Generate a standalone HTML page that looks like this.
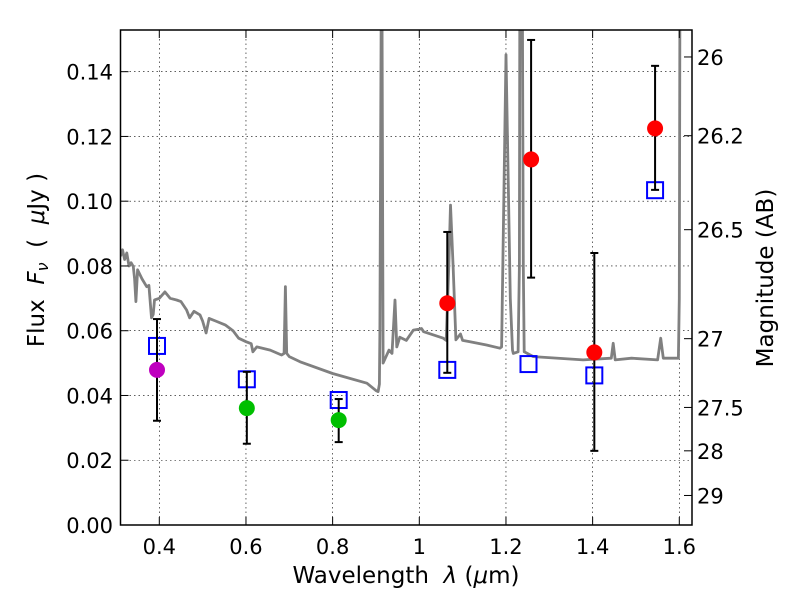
<!DOCTYPE html>
<html><head><meta charset="utf-8"><style>
html,body{margin:0;padding:0;background:#fff;}
svg{display:block;font-family:"DejaVu Sans","Liberation Sans",sans-serif;}
</style></head><body>
<svg id="chart" width="800" height="600" viewBox="0 0 800 600" xmlns="http://www.w3.org/2000/svg">
<defs><clipPath id="clip"><rect x="120.5" y="30" width="571.5" height="495"/></clipPath></defs>
<g id="grid"></g>
<g id="spec" clip-path="url(#clip)"></g>
<g id="marks"></g>
<rect x="120.5" y="30" width="571.5" height="495" fill="none" stroke="#000" stroke-width="1.5"/>
<g id="axes"></g>
<text x="406" y="583" font-size="23" text-anchor="middle" xml:space="preserve">Wavelength  <tspan font-style="italic">λ</tspan> (<tspan font-style="italic">μ</tspan>m)</text>
<text transform="translate(44,260) rotate(-90)" font-size="23" text-anchor="middle" xml:space="preserve">Flux  <tspan font-style="italic">F<tspan font-size="16" dy="4">ν</tspan></tspan><tspan dy="-4">  (  </tspan><tspan font-style="italic">μ</tspan>Jy )</text>
<text transform="translate(773,278) rotate(-90)" font-size="23" text-anchor="middle">Magnitude (AB)</text>
</svg>
<script>
const xTicks=[0.4,0.6,0.8,1.0,1.2,1.4,1.6];
const xTickLabels=["0.4","0.6","0.8","1","1.2","1.4","1.6"];
const yTicks=[0,0.02,0.04,0.06,0.08,0.1,0.12,0.14];
const yTickLabels=["0.00","0.02","0.04","0.06","0.08","0.10","0.12","0.14"];
const magTicks=[26,26.2,26.5,27,27.5,28,29];
const magTickLabels=["26","26.2","26.5","27","27.5","28","29"];
const specLam=[0.3105,0.315,0.32,0.325,0.33,0.335,0.34,0.343,0.346,0.35,0.36,0.371,0.376,0.382,0.386,0.389,0.4,0.413,0.425,0.44,0.45,0.463,0.47,0.48,0.494,0.5,0.508,0.515,0.53,0.552,0.57,0.583,0.6,0.612,0.616,0.625,0.656,0.682,0.688,0.691,0.694,0.7,0.725,0.8,0.879,0.9,0.905,0.908,0.909,0.912,0.914,0.9165,0.93,0.937,0.944,0.948,0.955,0.97,0.9865,1.0,1.005,1.01,1.0555,1.062,1.068,1.072,1.078,1.0845,1.095,1.1,1.117,1.155,1.186,1.19,1.2,1.21,1.215,1.217,1.228,1.231,1.232,1.238,1.24,1.242,1.263,1.378,1.443,1.4475,1.452,1.49,1.55,1.557,1.563,1.598,1.6,1.6015,1.605,1.63];
const specFlux=[0.083,0.085,0.082,0.084,0.080,0.081,0.0798,0.076,0.069,0.0788,0.076,0.0736,0.074,0.064,0.065,0.0695,0.070,0.072,0.070,0.0695,0.069,0.0664,0.064,0.066,0.0649,0.063,0.0593,0.0638,0.063,0.0618,0.060,0.0577,0.0566,0.056,0.0535,0.055,0.054,0.0525,0.053,0.0736,0.053,0.052,0.0504,0.0468,0.0438,0.0415,0.0412,0.0435,0.06,0.16,0.16,0.05,0.054,0.053,0.0695,0.055,0.058,0.057,0.0602,0.0605,0.0607,0.0597,0.0577,0.057,0.08,0.0988,0.08,0.0572,0.059,0.057,0.0566,0.0556,0.0546,0.055,0.1452,0.07,0.054,0.053,0.0535,0.08,0.16,0.16,0.08,0.0535,0.052,0.051,0.0515,0.0561,0.051,0.0515,0.051,0.0577,0.0515,0.0515,0.07,0.16,0.16,0.16];
const photLam=[0.3947,0.602,0.814,1.0646,1.258,1.4039,1.5441];
const photFlux=[0.0479,0.0361,0.0324,0.0685,0.1129,0.0533,0.1225];
const photErrHi=[0.0636,0.0473,0.0389,0.0905,0.1498,0.084,0.1418];
const photErrLo=[0.0322,0.0251,0.0256,0.047,0.0764,0.0229,0.1035];
const photColor=["#bf00bf","#00bf00","#00bf00","#ff0000","#ff0000","#ff0000","#ff0000"];
const modelLam=[0.3947,0.602,0.814,1.0646,1.252,1.4039,1.5441];
const modelFlux=[0.0553,0.045,0.0386,0.0479,0.0497,0.0462,0.1034];

const X=l=>159.3+(l-0.4)*433.33;
const Y=f=>525-f*3238;
const NS="http://www.w3.org/2000/svg";
function mk(tag,attrs,parent){const e=document.createElementNS(NS,tag);for(const k in attrs)e.setAttribute(k,attrs[k]);parent.appendChild(e);return e;}
const grid=document.getElementById('grid'),axes=document.getElementById('axes'),spec=document.getElementById('spec'),marks=document.getElementById('marks');
xTicks.forEach((t,i)=>{const x=X(t);
 const g=mk('line',{x1:x,x2:x,y1:30,y2:525,stroke:'#000','stroke-width':0.6,'stroke-dasharray':'1.5,3'},grid);
 
 mk('line',{x1:x,x2:x,y1:525,y2:517,stroke:'#000','stroke-width':1},axes);
 mk('line',{x1:x,x2:x,y1:30,y2:38,stroke:'#000','stroke-width':1},axes);
 const tx=mk('text',{x:x,y:554,'font-size':21,'text-anchor':'middle'},axes);tx.textContent=xTickLabels[i];
 });
yTicks.forEach((t,i)=>{const y=Y(t);
 const g=mk('line',{x1:120.5,x2:692,y1:y,y2:y,stroke:'#000','stroke-width':0.6,'stroke-dasharray':'1.5,3'},grid);
 
 mk('line',{x1:120.5,x2:128.5,y1:y,y2:y,stroke:'#000','stroke-width':1},axes);
 const tx=mk('text',{x:113,y:y+8,'font-size':21,'text-anchor':'end'},axes);tx.textContent=yTickLabels[i];
 });
magTicks.forEach((m,i)=>{const y=Y(Math.pow(10,(23.9-m)/2.5));
 mk('line',{x1:684,x2:692,y1:y,y2:y,stroke:'#000','stroke-width':1},axes);
 const tx=mk('text',{x:697,y:y+8,'font-size':21},axes);tx.textContent=magTickLabels[i];
 });
const pl=mk('polyline',{points:specLam.map((l,i)=>X(l).toFixed(1)+','+Y(specFlux[i]).toFixed(1)).join(' '),fill:'none',stroke:'#808080','stroke-width':2.8,'stroke-linejoin':'round'},spec);

modelLam.forEach((l,i)=>{const r=mk('rect',{x:X(l)-8,y:Y(modelFlux[i])-8,width:16,height:16,fill:'none',stroke:'#0000ff','stroke-width':2},marks);
 });
photLam.forEach((l,i)=>{const x=X(l),y1=Y(photErrHi[i]),y2=Y(photErrLo[i]);
 const e=mk('g',{},marks);
 mk('line',{x1:x,x2:x,y1:y1,y2:y2,stroke:'#000','stroke-width':2},e);
 mk('line',{x1:x-4,x2:x+4,y1:y1,y2:y1,stroke:'#000','stroke-width':2},e);
 mk('line',{x1:x-4,x2:x+4,y1:y2,y2:y2,stroke:'#000','stroke-width':2},e);});
photLam.forEach((l,i)=>{const c=mk('circle',{cx:X(l),cy:Y(photFlux[i]),r:8,fill:photColor[i]},marks);
 });
</script>
</body></html>
